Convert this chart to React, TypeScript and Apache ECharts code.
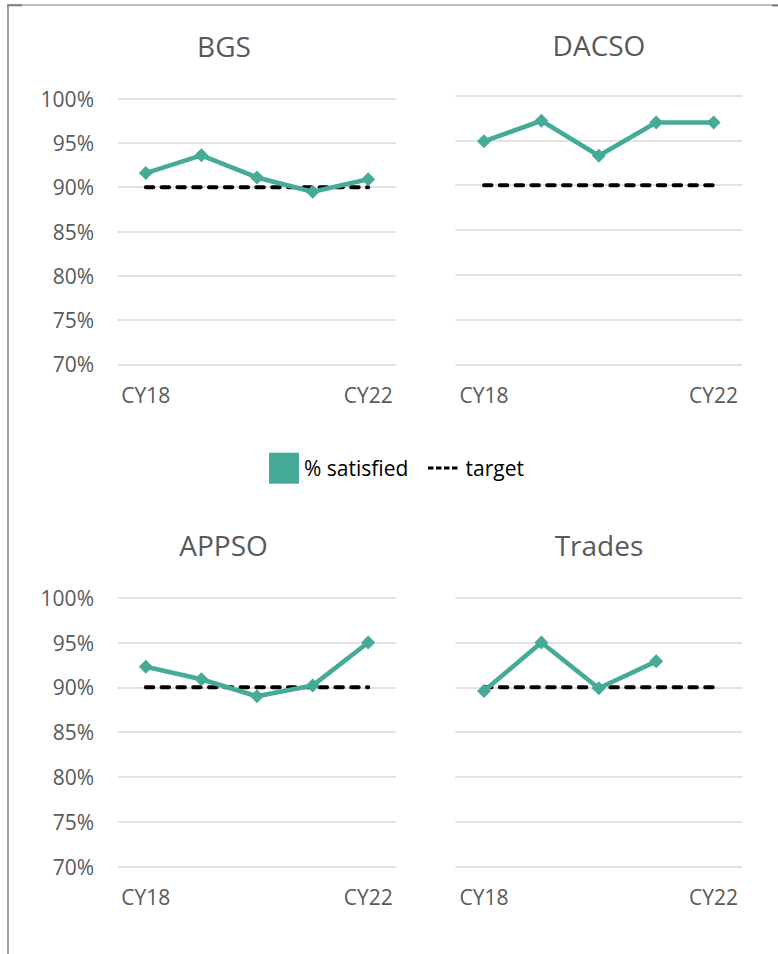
import React, { useEffect, useRef } from 'react';
import * as echarts from 'echarts';

const categories = ['CY18', 'CY19', 'CY20', 'CY21', 'CY22'];
const panelTitles = ['BGS', 'DACSO', 'APPSO', 'Trades'];
const bgsSatisfied = [91.6, 93.6, 91.1, 89.5, 90.9];
const dacsoSatisfied = [94.9, 97.2, 93.3, 97.0, 97.0];
const appsoSatisfied = [92.3, 90.9, 89.0, 90.2, 95.0];
const tradesSatisfied: (number | null)[] = [89.6, 95.0, 89.9, 92.9, null];
const bgsTarget = [90, 90, 90, 90, 90];
const dacsoTarget = [90, 90, 90, 90, 90];
const appsoTarget = [90, 90, 90, 90, 90];
const tradesTarget = [90, 90, 90, 90, 90];
const yMin = 70;
const yMax = 100;
const yStep = 5;

const satisfiedName = '% satisfied';
const targetName = 'target';

const TEAL = '#45AB98';
const GRAY_TEXT = '#595959';
const FONT = 'Open Sans';

export default function App() {
  const ref = useRef<HTMLDivElement>(null);

  useEffect(() => {
    if (!ref.current) return;
    const chart = echarts.init(ref.current, null, { renderer: 'svg' });

    const satisfied = [bgsSatisfied, dacsoSatisfied, appsoSatisfied, tradesSatisfied];
    const targets = [bgsTarget, dacsoTarget, appsoTarget, tradesTarget];

    const grids = [
      { left: 118, top: 98.7, width: 278, height: 265.6 },
      { left: 455.3, top: 95.7, width: 287, height: 268.6 },
      { left: 118, top: 597.7, width: 278, height: 269 },
      { left: 455.3, top: 597.7, width: 287, height: 269 },
    ];
    const titlePos = [
      { left: 224, top: 32 },
      { left: 599, top: 31 },
      { left: 223.5, top: 531 },
      { left: 599, top: 531 },
    ];

    const xAxes = grids.map((_, i) => ({
      type: 'category',
      gridIndex: i,
      data: categories,
      boundaryGap: true,
      axisLine: { show: false },
      axisTick: { show: false },
      axisLabel: {
        interval: 3,
        margin: 20,
        color: GRAY_TEXT,
        fontSize: 21,
        fontFamily: FONT,
      },
    }));

    const yAxes = grids.map((_, i) => ({
      type: 'value',
      gridIndex: i,
      min: yMin,
      max: yMax,
      interval: yStep,
      axisLine: { show: false },
      axisTick: { show: false },
      splitLine: { lineStyle: { color: '#d9d9d9', width: 1.5 } },
      axisLabel: {
        show: i % 2 === 0,
        formatter: '{value}%',
        margin: 24,
        color: GRAY_TEXT,
        fontSize: 21,
        fontFamily: FONT,
      },
    }));

    const series: any[] = [];
    for (let i = 0; i < 4; i++) {
      series.push({
        name: targetName,
        type: 'line',
        xAxisIndex: i,
        yAxisIndex: i,
        data: targets[i],
        symbol: 'none',
        color: '#000000',
        lineStyle: { color: '#000000', width: 4, type: [7.5, 8.3], cap: 'round' },
        z: 2,
      });
    }
    for (let i = 0; i < 4; i++) {
      series.push({
        name: satisfiedName,
        type: 'line',
        xAxisIndex: i,
        yAxisIndex: i,
        data: satisfied[i],
        symbol: 'diamond',
        symbolSize: 14,
        color: TEAL,
        itemStyle: { color: TEAL, borderWidth: 0 },
        lineStyle: { color: TEAL, width: 4.6 },
        connectNulls: false,
        z: 3,
      });
    }

    const option: any = {
      animation: false,
      backgroundColor: '#ffffff',
      textStyle: { fontFamily: FONT },
      title: panelTitles.map((t, i) => ({
        text: t,
        left: titlePos[i].left,
        top: titlePos[i].top,
        textAlign: 'center',
        padding: 0,
        textStyle: { color: GRAY_TEXT, fontSize: 28, fontWeight: 'normal', fontFamily: FONT },
      })),
      legend: [
        {
          data: [{ name: satisfiedName, icon: 'rect', itemStyle: { color: TEAL, borderWidth: 0 } }],
          left: 269,
          top: 452.7,
          itemWidth: 30,
          itemHeight: 31,
          selectedMode: false,
          padding: 0,
          textStyle: { color: '#000000', fontSize: 21, fontFamily: FONT },
        },
        {
          data: [
            {
              name: targetName,
              icon: 'path://M0,0 h5.5 v3 h-5.5 z M8,0 h5.5 v3 h-5.5 z M16,0 h5.5 v3 h-5.5 z M24,0 h5.5 v3 h-5.5 z',
              itemStyle: { color: '#000000', borderWidth: 0 },
            },
          ],
          left: 428,
          top: 457.5,
          itemWidth: 29.5,
          itemHeight: 3,
          itemGap: 10,
          selectedMode: false,
          padding: 0,
          textStyle: { color: '#000000', fontSize: 21, fontFamily: FONT, padding: [0, 0, 0, 3] },
        },
      ],
      grid: grids,
      xAxis: xAxes,
      yAxis: yAxes,
      series,
      graphic: [
        { type: 'line', shape: { x1: 8, y1: 4.5, x2: 8, y2: 954 }, style: { stroke: '#7f7f7f', lineWidth: 1.5 } },
        { type: 'line', shape: { x1: 7, y1: 5, x2: 778, y2: 5 }, style: { stroke: '#7f7f7f', lineWidth: 1.2 } },
        { type: 'rect', shape: { x: 7.3, y: 4.3, width: 14.7, height: 2 }, style: { fill: '#7f7f7f' } },
        { type: 'rect', shape: { x: 772, y: 4.5, width: 6, height: 2 }, style: { fill: '#7f7f7f' } },
      ],
    };

    chart.setOption(option);
    return () => {
      chart.dispose();
    };
  }, []);

  return (
    <div
      ref={ref}
      style={{ position: 'absolute', left: 0, top: 0, width: 778, height: 954, background: '#fff' }}
    />
  );
}
